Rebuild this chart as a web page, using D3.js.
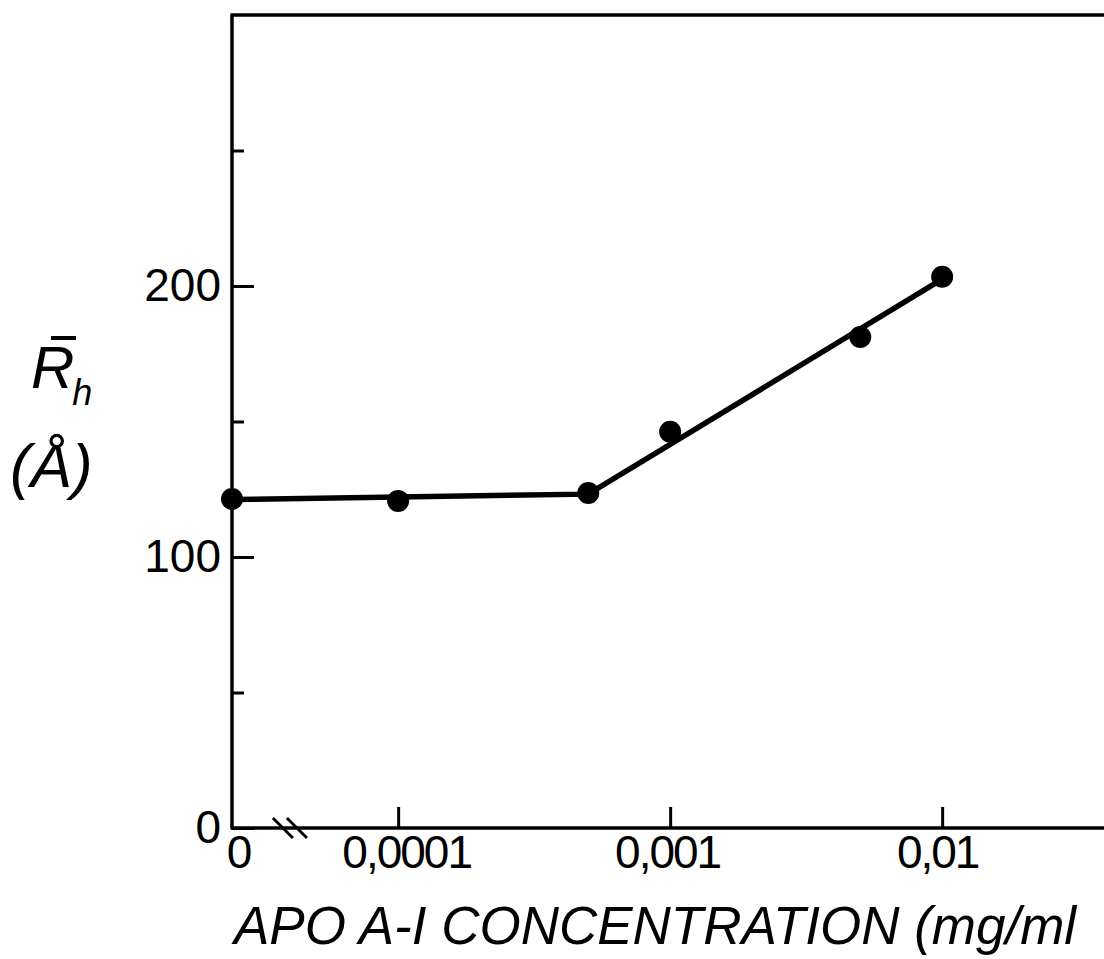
<!DOCTYPE html>
<html>
<head>
<meta charset="utf-8">
<script src="https://cdn.jsdelivr.net/npm/d3@7/dist/d3.min.js"></script>
<style>
  html, body { margin: 0; padding: 0; background: #fff; }
  svg { display: block; }
  text { font-family: "Liberation Sans", Arial, sans-serif; fill: #000; }
</style>
</head>
<body>
<svg id="chart" width="1104" height="959"></svg>
<script>
// ---- data ----
const concentrations = [0, 0.0001, 0.0005, 0.001, 0.005, 0.01];     // mg/ml
const radiusValues   = [121.4, 120.7, 123.6, 146.2, 181.2, 203.4];  // Å
const fitConcentrations = [0, 0.0005, 0.01];
const fitValues         = [121.2, 123.2, 202.5];
const xTickValues = [0, 0.0001, 0.001, 0.01];
const xTickLabels = ["0", "0,0001", "0,001", "0,01"];
const yMajorTicks = [0, 100, 200];
const yMinorTicks = [50, 150, 250];
const ZERO_SURROGATE = 2.45e-5;  // where "0" sits on the broken log axis
const BREAK_AT = 4e-5;           // axis break position
const xTitle = "APO A-I CONCENTRATION (mg/ml";   // right end is cut off in the original

(function () {
const svg = d3.select("#chart");
const plotLeft = 232, plotBottom = 828, plotTop = 15, decade = 272;

const xMin = ZERO_SURROGATE, xMax = 0.1;
const x0 = d3.scaleLog().domain([xMin, xMax])
  .range([plotLeft, plotLeft + decade * (Math.log10(xMax) - Math.log10(xMin))]);
const x = v => x0(v === 0 ? ZERO_SURROGATE : v);
const y = d3.scaleLinear().domain([0, 300]).range([plotBottom, plotTop]);

// frame lines
const frame = svg.append("g").attr("stroke", "#000").attr("stroke-width", 3.5).attr("fill", "none");
frame.append("line").attr("x1", x(0)).attr("x2", x(0)).attr("y1", y(300)).attr("y2", y(0));
frame.append("line").attr("x1", x(0) - 1.5).attr("x2", x0(xMax)).attr("y1", y(0)).attr("y2", y(0));
frame.append("line").attr("x1", x(0) - 1.5).attr("x2", x0(xMax)).attr("y1", y(300)).attr("y2", y(300));

// y axis major ticks (inside)
const yAxis = svg.append("g").attr("transform", `translate(${plotLeft},0)`)
  .call(d3.axisLeft(y).tickValues(yMajorTicks).tickSize(-22).tickSizeOuter(0).tickPadding(11));
yAxis.select(".domain").remove();
yAxis.selectAll(".tick line").attr("stroke", "#000").attr("stroke-width", 3);
yAxis.selectAll(".tick text").attr("font-size", 46).style("font-family", "Liberation Sans, Arial, sans-serif");

const yMinor = svg.append("g").attr("transform", `translate(${plotLeft},0)`)
  .call(d3.axisLeft(y).tickValues(yMinorTicks).tickSize(-12).tickSizeOuter(0).tickFormat(""));
yMinor.select(".domain").remove();
yMinor.selectAll(".tick line").attr("stroke", "#000").attr("stroke-width", 3);

// x axis ticks (inside, upward)
const xAx = svg.append("g").attr("transform", `translate(0,${plotBottom})`)
  .call(d3.axisBottom(x0)
    .tickValues(xTickValues.map(v => v === 0 ? ZERO_SURROGATE : v))
    .tickFormat((d, i) => xTickLabels[i])
    .tickSize(-21).tickSizeOuter(0).tickPadding(7));
xAx.select(".domain").remove();
xAx.selectAll(".tick line").attr("stroke", "#000").attr("stroke-width", 3)
  .attr("opacity", (d, i) => i === 0 ? 0 : 1);
xAx.selectAll(".tick text").attr("font-size", 46).attr("letter-spacing", -2)
  .style("font-family", "Liberation Sans, Arial, sans-serif")
  .attr("dx", (d, i) => [6, 8, -3, -5][i]);

// axis break marks
const bx = x0(BREAK_AT);
svg.append("g").attr("stroke", "#000").attr("stroke-width", 3)
  .selectAll("line").data([-7, 7]).join("line")
  .attr("x1", d => bx + d - 10).attr("y1", plotBottom - 10)
  .attr("x2", d => bx + d + 10).attr("y2", plotBottom + 10);

// fit line
const line = d3.line().x(d => x(d[0])).y(d => y(d[1]));
svg.append("path")
  .datum(fitConcentrations.map((c, i) => [c, fitValues[i]]))
  .attr("d", line).attr("fill", "none").attr("stroke", "#000").attr("stroke-width", 5.5);

// data points
svg.append("g").selectAll("circle")
  .data(concentrations.map((c, i) => [c, radiusValues[i]]))
  .join("circle")
  .attr("cx", d => x(d[0])).attr("cy", d => y(d[1])).attr("r", 11).attr("fill", "#000");

// y-axis label  R̄h (Å)
const yl = svg.append("g");
const rt = yl.append("text").attr("x", 31).attr("y", 388).attr("font-size", 60).attr("font-style", "italic");
rt.append("tspan").text("R");
rt.append("tspan").attr("font-size", 36).attr("dx", -2).attr("dy", 17).text("h");
yl.append("line").attr("x1", 51).attr("x2", 76).attr("y1", 338).attr("y2", 338)
  .attr("stroke", "#000").attr("stroke-width", 4);
yl.append("text").attr("x", 10).attr("y", 487).attr("font-size", 62).attr("font-style", "italic").text("(Å)");

// x-axis title
svg.append("text").attr("x", 234).attr("y", 944).attr("font-size", 53).attr("font-style", "italic")
  .text(xTitle);
})();
</script>
</body>
</html>
